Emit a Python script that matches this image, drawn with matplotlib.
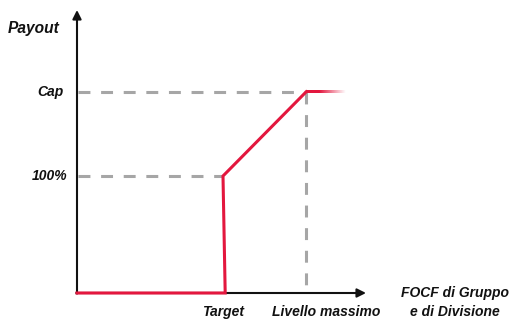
import numpy as np
import matplotlib
matplotlib.use("Agg")
import matplotlib.pyplot as plt
from matplotlib.colors import to_rgb

# ---- data (performance in % of target, payout in % of target payout) ----
perf_path = [0, 101.5, 100, 157]
payout_path = [0, 0, 100, 172]
x_target = 100
x_max = 157
y_100 = 100
y_cap = 172
x_fade_end = 184
y_labels = ["100%", "Cap"]
y_label_vals = [y_100, y_cap]
x_labels = ["Target", "Livello massimo"]
x_label_pos = [100.3, 170.5]
x_title = ["FOCF di Gruppo", "e di Divisione"]
y_title = "Payout"

RED = "#e3173e"
GREY = "#a6a6a6"
FONT = "Liberation Sans"

W, H = 510, 323
fig = plt.figure(figsize=(W / 100, H / 100), dpi=100)
ax = fig.add_axes([0, 0, 1, 1])
sx, sy = 1.46, 1.17          # pixels per data unit
ox, oy = 77, 293             # origin pixel location (from top-left)
xlim = (-ox / sx, (W - ox) / sx)
ylim = (-(H - oy) / sy, oy / sy)
ax.axis("off")

# dashed guide lines
dash_kw = dict(color=GREY, lw=2.2, dashes=(3.9, 3.5), solid_capstyle="butt",
               dash_capstyle="butt", zorder=1)
ax.plot([0.5, x_max], [y_cap, y_cap], **dash_kw)
ax.plot([0.5, x_target], [y_100, y_100], **dash_kw)
ax.plot([x_max, x_max], [y_cap, 0], **dash_kw)

# axes with arrows
ax.annotate("", xy=(0, (oy - 10) / sy), xytext=(0, -0.5),
            arrowprops=dict(arrowstyle="-|>", lw=1.5, color="#111111",
                            mutation_scale=13, shrinkA=0, shrinkB=0), zorder=3)
ax.annotate("", xy=((366 - ox) / sx, 0), xytext=(-0.5, 0),
            arrowprops=dict(arrowstyle="-|>", lw=1.5, color="#111111",
                            mutation_scale=13, shrinkA=0, shrinkB=0), zorder=3)

# payout curve
ax.plot(perf_path, payout_path, color=RED, lw=2.2, solid_joinstyle="miter",
        zorder=4)
# fading cap segment (gradient image)
n = 64
grad = np.zeros((1, n, 4))
grad[..., :3] = to_rgb(RED)
t = np.linspace(0, 1, n)
grad[..., 3] = np.clip(1.5 - 1.5 * t, 0, 1)
half = 1.5 / sy
ax.imshow(grad, extent=[x_max, x_fade_end, y_cap - half, y_cap + half],
          aspect="auto", interpolation="bilinear", zorder=4, origin="lower")
ax.set_xlim(*xlim)
ax.set_ylim(*ylim)

tkw = dict(fontfamily=FONT, fontweight="bold", fontstyle="italic",
           color="#111111")
ax.text((8 - ox) / sx, (oy - 33) / sy, y_title, fontsize=11.2, ha="left",
        va="baseline", **tkw)
for lab, v in zip(y_labels, y_label_vals):
    ax.text((50 - ox) / sx, v, lab, fontsize=10, ha="center", va="center", **tkw)
for lab, p in zip(x_labels, x_label_pos):
    ax.text(p, -(316 - oy) / sy, lab, fontsize=10, ha="center", va="baseline",
            **tkw)
ax.text((455 - ox) / sx, -(296.5 - oy) / sy, x_title[0], fontsize=10,
        ha="center", va="baseline", **tkw)
ax.text((455 - ox) / sx, -(316.5 - oy) / sy, x_title[1], fontsize=10,
        ha="center", va="baseline", **tkw)

fig.savefig("out.png", dpi=100)
